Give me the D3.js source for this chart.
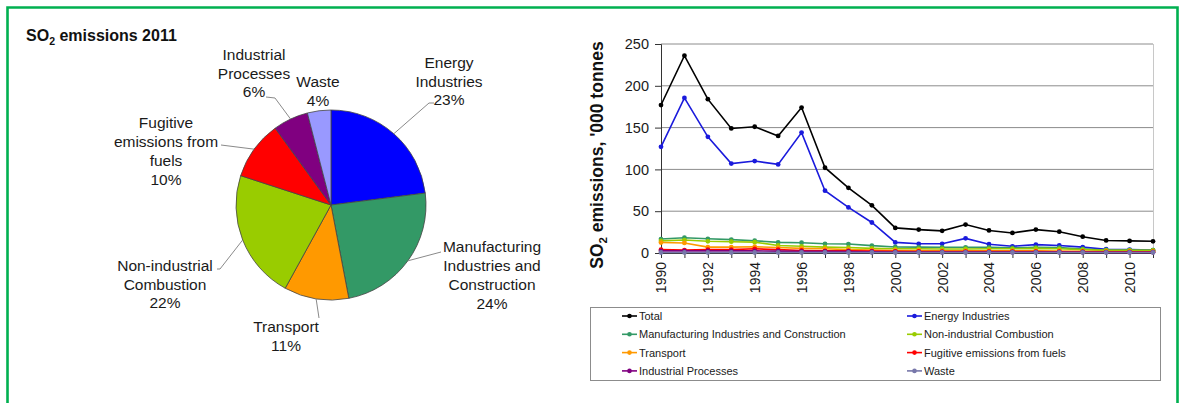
<!DOCTYPE html>
<html><head><meta charset="utf-8">
<script src="https://cdn.jsdelivr.net/npm/d3@7/dist/d3.min.js"></script>
<style>
body{margin:0;background:#fff;}
svg{display:block;font-family:"Liberation Sans",Arial,sans-serif;}
</style>
</head><body>
<svg id="c" width="1181" height="403"></svg>
<script>
// ---------- PIE DATA (2011 shares, %) ----------
const pieCategories = ["Energy Industries","Manufacturing Industries and Construction","Transport","Non-industrial Combustion","Fugitive emissions from fuels","Industrial Processes","Waste"];
const pieShares = [23,24,11,22,10,6,4];
const pieLabelLines = [
  ["Energy","Industries","23%"],
  ["Manufacturing","Industries and","Construction","24%"],
  ["Transport","11%"],
  ["Non-industrial","Combustion","22%"],
  ["Fugitive","emissions from","fuels","10%"],
  ["Industrial","Processes","6%"],
  ["Waste","4%"]
];
const pieColors = ["#0000ff","#339966","#ff9900","#99cc00","#ff0000","#800080","#9999ff"];

// ---------- LINE DATA ('000 tonnes) ----------
const years = [1990,1991,1992,1993,1994,1995,1996,1997,1998,1999,2000,2001,2002,2003,2004,2005,2006,2007,2008,2009,2010,2011];
const total         = [177,236,184,149,151,140,174,102,78,57,30,28,26.5,34,27,24,28,25.5,19.5,15,14.5,14];
const energy        = [127,185.5,139,107,110,106,144,74.5,54.5,36.5,12.7,11,11,17.5,10.5,8,10,9,7,4.5,4,3.5];
const manufacturing = [16.7,18.3,17,16,14.7,12.7,12.3,11,10.7,8.8,7.2,7,6.8,6.8,6.8,6.2,6.8,6.4,4.8,3.6,3.5,3.3];
const nonIndustrial = [14.5,15.5,14,13.5,13,9,8,7,6.5,5.5,5,5,4.8,4.8,5,5,5.5,5,4,3.2,3.2,3.1];
const transport     = [12.5,12,7,7,7.5,6.5,5.5,5,4,3.5,3,3,2.6,2.6,2.5,2.5,2.5,2.4,2,1.6,1.5,1.5];
const fugitive      = [4,3.5,4,4,5,4,3,2.5,2.5,2.2,2,1.8,1.7,1.7,1.6,1.6,1.6,1.5,1.5,1.4,1.4,1.4];
const industrial    = [2.5,2.5,2.5,2.5,2.5,2.2,2,2,1.8,1.5,1.2,1.1,1,1,1,1,1,1,0.9,0.8,0.8,0.8];
const waste         = [0.6,0.6,0.6,0.6,0.6,0.6,0.6,0.6,0.6,0.6,0.6,0.6,0.6,0.6,0.6,0.6,0.6,0.6,0.6,0.6,0.6,0.6];

const seriesNames  = ["Total","Energy Industries","Manufacturing Industries and Construction","Non-industrial Combustion","Transport","Fugitive emissions from fuels","Industrial Processes","Waste"];
const seriesValues = [total,energy,manufacturing,nonIndustrial,transport,fugitive,industrial,waste];
const seriesColors = ["#000000","#1a1adc","#339966","#99cc00","#ff9900","#ff0000","#800080","#7777aa"];

const yTicks = [0,50,100,150,200,250];
const xTickLabels = [1990,1992,1994,1996,1998,2000,2002,2004,2006,2008,2010];

const svg = d3.select("#c");
svg.append("rect").attr("width",1181).attr("height",403).attr("fill","#fff");

// green frame
svg.append("path").attr("d","M7.5,420 V7.5 H1177.5 V420")
  .attr("fill","none").attr("stroke","#00b050").attr("stroke-width",2.6);

// ---------- PIE ----------
const title = svg.append("text").attr("x",26).attr("y",41)
  .attr("font-size",16).attr("font-weight","bold").attr("fill","#111");
title.append("tspan").text("SO");
title.append("tspan").attr("font-size",10.5).attr("dy",4).text("2");
title.append("tspan").attr("dy",-4).text(" emissions 2011");

const cx = 331, cy = 205, R = 95;
const pieG = svg.append("g").attr("transform",`translate(${cx},${cy})`);
const pie = d3.pie().sort(null).value(d=>d);
const arcs = pie(pieShares);
const arc = d3.arc().innerRadius(0).outerRadius(R);
pieG.selectAll("path.slice").data(arcs).join("path")
  .attr("class","slice")
  .attr("d",arc)
  .attr("fill",(d,i)=>pieColors[i])
  .attr("stroke","#444").attr("stroke-width",0.8);

// label layout (offsets from pie centre): label centre and leader end points
const labelLayout = [
  {lx:118, ly:-124, leader:[[98,-102],[103,-102]]},
  {lx:161, ly:70,   leader:[[110,47]]},
  {lx:-45, ly:131,  leader:[[-12,113]]},
  {lx:-166,ly:79,   leader:[[-111,64],[-114,64]]},
  {lx:-165,ly:-54,  leader:[[-110,-60]]},
  {lx:-77, ly:-132, leader:[[-56,-107],[-65,-108]]},
  {lx:-13, ly:-114, leader:null}
];
const lineH = 18.7;
arcs.forEach((a,i)=>{
  const L = labelLayout[i];
  const mid = (a.startAngle+a.endAngle)/2;
  if (L.leader){
    const start = [Math.sin(mid)*R, -Math.cos(mid)*R];
    const pts = [start, ...L.leader];
    pieG.append("path").attr("d", d3.line()(pts))
      .attr("fill","none").attr("stroke","#8a8a8a").attr("stroke-width",1);
  }
  const lines = pieLabelLines[i];
  const t = pieG.append("text").attr("text-anchor","middle")
    .attr("font-size",15.5).attr("fill","#1a1a1a");
  const y0 = L.ly - (lines.length-1)*lineH/2 + 5.5;
  lines.forEach((s,k)=>{
    t.append("tspan").attr("x",L.lx).attr("y",y0+k*lineH).text(s);
  });
});

// ---------- LINE CHART ----------
const x = d3.scalePoint().domain(years).range([661,1153]);
const y = d3.scaleLinear().domain([0,250]).range([253,44]);

// gridlines
svg.append("g").selectAll("line").data(yTicks.filter(v=>v>0)).join("line")
  .attr("x1",661).attr("x2",1153).attr("y1",d=>y(d)).attr("y2",d=>y(d))
  .attr("stroke","#8c8c8c").attr("stroke-width",1);
// right plot border
svg.append("line").attr("x1",1153.5).attr("x2",1153.5).attr("y1",y(250)).attr("y2",y(0))
  .attr("stroke","#c8c8c8").attr("stroke-width",1);

// y axis
const yAxis = d3.axisLeft(y).tickValues(yTicks).tickSize(6).tickPadding(6);
const gy = svg.append("g").attr("transform","translate(661,0)").call(yAxis);
gy.attr("font-family",null).attr("font-size",null);
gy.selectAll("text").attr("font-size",14.5).attr("fill","#1a1a1a");
gy.selectAll("line,path").attr("stroke","#333");

// x axis
const xAxis = d3.axisBottom(x).tickSize(5).tickFormat(d=>xTickLabels.includes(d)?d:"");
const gx = svg.append("g").attr("transform","translate(0,253)").call(xAxis);
gx.attr("font-family",null).attr("font-size",null);
gx.select(".domain").attr("d","M661,0.5H1153").attr("stroke","#333");
gx.selectAll("line").attr("stroke","#333");
gx.selectAll("text").attr("font-size",14).attr("fill","#1a1a1a")
  .attr("transform","rotate(-90)").attr("text-anchor","end")
  .attr("x",-9).attr("y",0).attr("dy","0.35em");

// y title
const yt = svg.append("text")
  .attr("transform","translate(603,155) rotate(-90)")
  .attr("text-anchor","middle").attr("font-size",17.5).attr("font-weight","bold").attr("fill","#111");
yt.append("tspan").text("SO");
yt.append("tspan").attr("font-size",11.5).attr("dy",4).text("2");
yt.append("tspan").attr("dy",-4).text(" emissions, '000 tonnes");

// lines
const line = d3.line().x((d,i)=>x(years[i])).y(d=>y(d));
const plot = svg.append("g");
seriesValues.forEach((vals,s)=>{
  const g = plot.append("g");
  g.append("path").attr("d",line(vals)).attr("fill","none")
    .attr("stroke",seriesColors[s]).attr("stroke-width",1.6);
  g.selectAll("circle").data(vals).join("circle")
    .attr("cx",(d,i)=>x(years[i])).attr("cy",d=>y(d)).attr("r",2.4)
    .attr("fill",seriesColors[s]);
});

// legend
svg.append("rect").attr("x",590.5).attr("y",307.5).attr("width",570).attr("height",73)
  .attr("fill","#fff").attr("stroke","#8c8c8c").attr("stroke-width",1);
const lg = svg.append("g");
seriesNames.forEach((name,i)=>{
  const col = i%2, row = Math.floor(i/2);
  const lx = col===0 ? 622 : 907;
  const ly = 316 + row*18.3;
  lg.append("line").attr("x1",lx).attr("x2",lx+15).attr("y1",ly).attr("y2",ly)
    .attr("stroke",seriesColors[i]).attr("stroke-width",1.6);
  lg.append("circle").attr("cx",lx+7.5).attr("cy",ly).attr("r",2.3).attr("fill",seriesColors[i]);
  lg.append("text").attr("x",lx+17).attr("y",ly+4).attr("font-size",11).attr("fill","#1a1a1a").text(name);
});
</script>
</body></html>
